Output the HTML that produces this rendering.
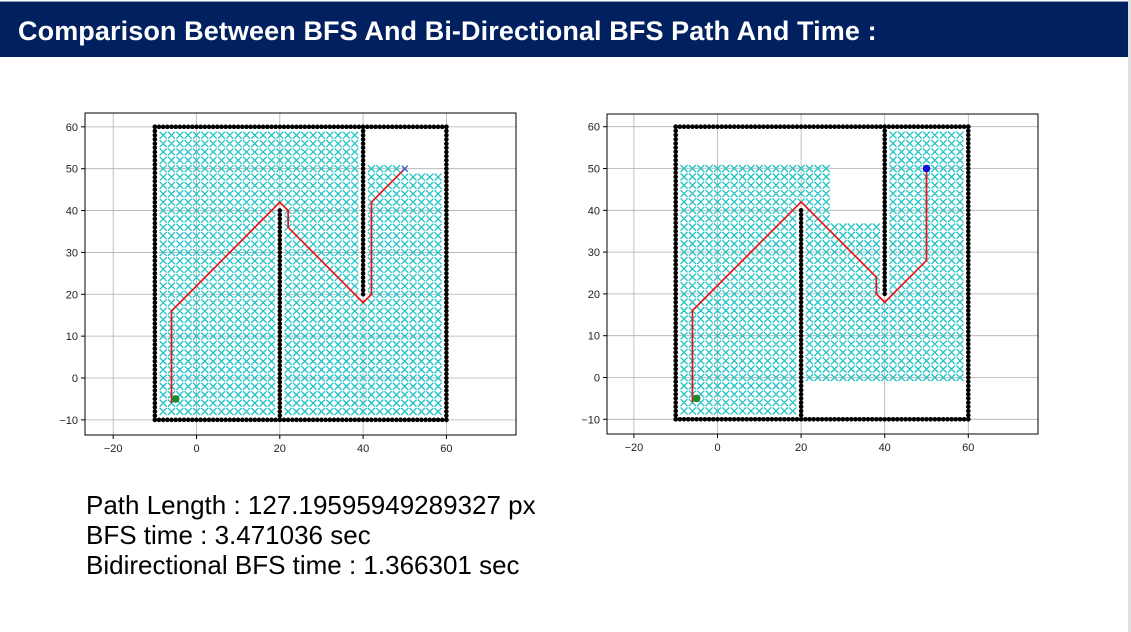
<!DOCTYPE html>
<html><head><meta charset="utf-8">
<style>
body{margin:0;width:1131px;height:632px;background:#fff;overflow:hidden;font-family:"Liberation Sans",sans-serif;position:relative}
#bar{position:absolute;left:0;top:1px;width:1128px;height:55px;background:#012060;border-top:1px solid #8a98b8}
#bar h1{margin:0;position:absolute;left:18px;top:14px;color:#fff;font:bold 27px "Liberation Sans",sans-serif;letter-spacing:0.1px}
#edge{position:absolute;right:0;top:0;width:3px;height:632px;background:#e0e0e0}
#stats{position:absolute;left:86px;top:490px;font-size:26px;line-height:30px;color:#000}
svg{position:absolute;left:0;top:0}
</style></head><body>
<div id="bar"><h1>Comparison Between BFS And Bi-Directional BFS Path And Time :</h1></div>
<div id="edge"></div>
<div id="stats">
<div>Path Length : 127.19595949289327 px</div>
<div>BFS time : 3.471036 sec</div>
<div>Bidirectional BFS time : 1.366301 sec</div>
</div>
<svg id="svg" width="1131" height="632"></svg>
<script>
const xTicks=[-20,0,20,40,60];
const yTicks=[-10,0,10,20,30,40,50,60];
const pathBFS=[[-6,-6],[-6,16],[20,42],[22,40],[22,36],[40,18],[42,20],[42,42],[50,50]];
const pathBi=[[-6,-6],[-6,16],[20,42],[38,24],[38,20],[40,18],[50,28],[50,50]];
const startPt=[-5,-5];
const goalPt=[50,50];
const wallSegs=[[-10,-10,60,-10],[-10,60,60,60],[-10,-10,-10,60],[60,-10,60,60],[20,-10,20,40],[40,20,40,60]];
function visitedBFS(x,y){ if(x<=38) return true; if(x===40) return y<20; if(x<=48) return y<=50; return y<=48; }
function visitedBi(x,y){ if(x<=18) return y<=50; if(y<0) return false; if(x<=26) return y<=50; if(x<=38) return y<=36; if(x===40) return y<20; return true; }
const NS='http://www.w3.org/2000/svg';
const svg=document.getElementById('svg');
function el(t,a,p){const e=document.createElementNS(NS,t);for(const k in a)e.setAttribute(k,a[k]);(p||svg).appendChild(e);return e;}
function chart(cfg){
  const g=el('g',{});
  
  
  const sx=v=>cfg.x0+v*cfg.kx, sy=v=>cfg.y0-v*cfg.ky;
  xTicks.forEach(t=>{const l=el('line',{x1:sx(t),x2:sx(t),y1:cfg.top,y2:cfg.bot,stroke:'#b0b0b0','stroke-width':0.8},g);
    
    el('line',{x1:sx(t),x2:sx(t),y1:cfg.bot,y2:cfg.bot+4,stroke:'#000'},g);
    const tx=el('text',{x:sx(t),y:cfg.bot+17,'text-anchor':'middle','font-size':11,fill:'#222'},g);tx.textContent=t<0?'\u2212'+(-t):t;
    });
  yTicks.forEach(t=>{const l=el('line',{x1:cfg.left,x2:cfg.right,y1:sy(t),y2:sy(t),stroke:'#b0b0b0','stroke-width':0.8},g);
    
    el('line',{x1:cfg.left-4,x2:cfg.left,y1:sy(t),y2:sy(t),stroke:'#000'},g);
    const tx=el('text',{x:cfg.left-7,y:sy(t)+4,'text-anchor':'end','font-size':11,fill:'#222'},g);tx.textContent=t<0?'\u2212'+(-t):t;
    });
  let d='';
  for(let x=-8;x<=58;x+=2)for(let y=-8;y<=58;y+=2){ if(!cfg.vis(x,y))continue; if(x===20&&y<=40)continue;
    const X=sx(x),Y=sy(y),r=3.5; d+=`M${X-r},${Y-r}L${X+r},${Y+r}M${X-r},${Y+r}L${X+r},${Y-r}`;}
  const vp=el('path',{d:d,stroke:'#1fc3c6','stroke-width':1.3,fill:'none'},g);
  
  wallSegs.forEach(s=>{const wg=el('g',{fill:'#000'},g);
    
    const n=Math.max(Math.abs(s[2]-s[0]),Math.abs(s[3]-s[1]));
    for(let i=0;i<=n;i++){const x=s[0]+(s[2]-s[0])*i/n,y=s[1]+(s[3]-s[1])*i/n;el('circle',{cx:sx(x),cy:sy(y),r:2.3},wg);}});
  const pl=el('polyline',{points:cfg.path.map(p=>sx(p[0])+','+sy(p[1])).join(' '),stroke:'#e8121a','stroke-width':1.7,fill:'none'},g);
  
  const sc=el('circle',{cx:sx(startPt[0]),cy:sy(startPt[1]),r:3.8,fill:'#1a8a2a'},g);
  
  if(cfg.goalDot){const gc=el('circle',{cx:sx(goalPt[0]),cy:sy(goalPt[1]),r:3.8,fill:'#1010e0'},g);
    }
  else{const X=sx(goalPt[0]),Y=sy(goalPt[1]);const gm=el('path',{d:`M${X-3},${Y-3}L${X+3},${Y+3}M${X-3},${Y+3}L${X+3},${Y-3}`,stroke:'#3050d0','stroke-width':1.3},g);
    }
  const fr=el('rect',{x:cfg.left,y:cfg.top,width:cfg.right-cfg.left,height:cfg.bot-cfg.top,fill:'none',stroke:'#000','stroke-width':1},g);
  
}
chart({name:'bfs-chart',x0:196.5,kx:4.165,y0:378,ky:4.186,left:85,right:516,top:113,bot:435,path:pathBFS,vis:visitedBFS,goalDot:false});
chart({name:'bidirectional-bfs-chart',x0:717.5,kx:4.18,y0:377.5,ky:4.18,left:607,right:1038,top:114,bot:434,path:pathBi,vis:visitedBi,goalDot:true});
</script>
</body></html>
